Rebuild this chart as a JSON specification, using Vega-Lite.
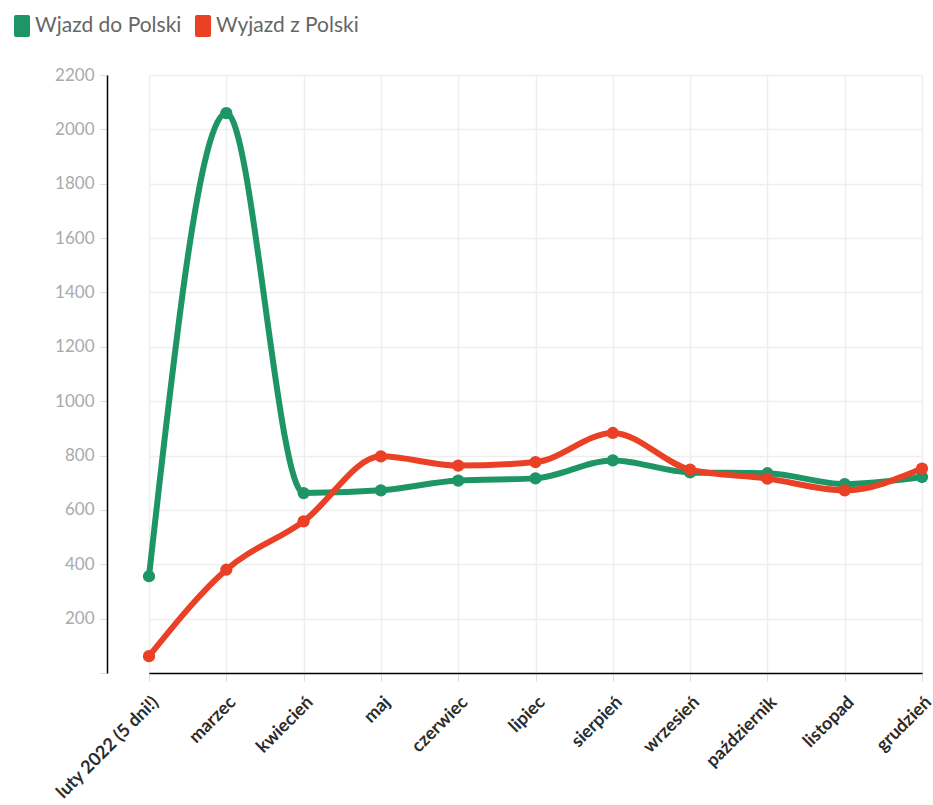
{
  "$schema": "https://vega.github.io/schema/vega-lite/v6.json",
  "width": 826,
  "height": 598,
  "autosize": {"type": "none"},
  "padding": {"left": 107, "top": 75, "right": 0, "bottom": 132},
  "background": "white",
  "config": {
    "font": "Lato",
    "view": {"stroke": null}
  },
  "data": {
    "values": [
      {"miesiac": "luty 2022 (5 dni!)", "seria": "Wjazd do Polski", "wartosc": 356},
      {"miesiac": "marzec", "seria": "Wjazd do Polski", "wartosc": 2060},
      {"miesiac": "kwiecień", "seria": "Wjazd do Polski", "wartosc": 662},
      {"miesiac": "maj", "seria": "Wjazd do Polski", "wartosc": 672},
      {"miesiac": "czerwiec", "seria": "Wjazd do Polski", "wartosc": 708},
      {"miesiac": "lipiec", "seria": "Wjazd do Polski", "wartosc": 716},
      {"miesiac": "sierpień", "seria": "Wjazd do Polski", "wartosc": 782},
      {"miesiac": "wrzesień", "seria": "Wjazd do Polski", "wartosc": 738},
      {"miesiac": "październik", "seria": "Wjazd do Polski", "wartosc": 735},
      {"miesiac": "listopad", "seria": "Wjazd do Polski", "wartosc": 695},
      {"miesiac": "grudzień", "seria": "Wjazd do Polski", "wartosc": 721},
      {"miesiac": "luty 2022 (5 dni!)", "seria": "Wyjazd z Polski", "wartosc": 62},
      {"miesiac": "marzec", "seria": "Wyjazd z Polski", "wartosc": 380},
      {"miesiac": "kwiecień", "seria": "Wyjazd z Polski", "wartosc": 558},
      {"miesiac": "maj", "seria": "Wyjazd z Polski", "wartosc": 797},
      {"miesiac": "czerwiec", "seria": "Wyjazd z Polski", "wartosc": 763},
      {"miesiac": "lipiec", "seria": "Wyjazd z Polski", "wartosc": 776},
      {"miesiac": "sierpień", "seria": "Wyjazd z Polski", "wartosc": 883},
      {"miesiac": "wrzesień", "seria": "Wyjazd z Polski", "wartosc": 748},
      {"miesiac": "październik", "seria": "Wyjazd z Polski", "wartosc": 715},
      {"miesiac": "listopad", "seria": "Wyjazd z Polski", "wartosc": 672},
      {"miesiac": "grudzień", "seria": "Wyjazd z Polski", "wartosc": 752}
    ]
  },
  "encoding": {
    "x": {
      "field": "miesiac",
      "type": "ordinal",
      "sort": null,
      "scale": {"type": "point", "range": [42, 815], "padding": 0},
      "axis": {
        "title": null,
        "labelAngle": -45,
        "labelFont": "Lato",
        "labelFontSize": 18,
        "labelFontWeight": "bold",
        "labelColor": "#2b2b2b",
        "labelPadding": 12,
        "labelDx": -4,
        "labelBound": false,
        "labelOverlap": false,
        "domainColor": "#000000",
        "domainWidth": 1.5,
        "tickColor": "#dddddd",
        "tickSize": 8,
        "grid": true,
        "gridColor": "#eeeeee",
        "gridWidth": 1.5
      }
    },
    "y": {
      "field": "wartosc",
      "type": "quantitative",
      "scale": {"domain": [0, 2200], "nice": false},
      "axis": {
        "title": null,
        "values": [0, 200, 400, 600, 800, 1000, 1200, 1400, 1600, 1800, 2000, 2200],
        "labelExpr": "datum.value == 0 ? '' : datum.label",
        "format": "d",
        "labelFont": "Lato",
        "labelFontSize": 17,
        "labelColor": "#aaaaaa",
        "labelPadding": 6,
        "domainColor": "#000000",
        "domainWidth": 1.5,
        "tickColor": "#dddddd",
        "tickSize": 7,
        "grid": true,
        "gridColor": "#eeeeee",
        "gridWidth": 1.5
      }
    },
    "color": {
      "field": "seria",
      "type": "nominal",
      "sort": ["Wjazd do Polski", "Wyjazd z Polski"],
      "scale": {"domain": ["Wjazd do Polski", "Wyjazd z Polski"], "range": ["#1e9565", "#ea4126"]},
      "legend": {
        "title": null,
        "orient": "none",
        "direction": "horizontal",
        "legendX": -96,
        "legendY": -60,
        "symbolType": "M-0.55,-1 L0.55,-1 Q0.73,-1 0.73,-0.8 L0.73,0.8 Q0.73,1 0.55,1 L-0.55,1 Q-0.73,1 -0.73,0.8 L-0.73,-0.8 Q-0.73,-1 -0.55,-1 Z",
        "symbolSize": 484,
        "symbolStrokeWidth": 0,
        "symbolOpacity": 1,
        "labelFont": "Lato",
        "labelFontSize": 21,
        "labelColor": "#666666",
        "labelOffset": 2,
        "columnPadding": 10
      }
    }
  },
  "layer": [
    {
      "mark": {"type": "line", "interpolate": "monotone", "strokeWidth": 6}
    },
    {
      "mark": {"type": "point", "filled": true, "size": 150, "opacity": 1}
    }
  ]
}
